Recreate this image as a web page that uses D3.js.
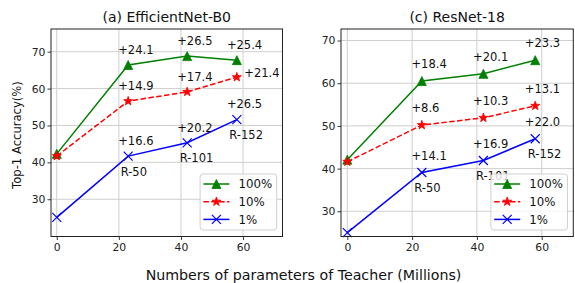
<!DOCTYPE html>
<html>
<head>
<meta charset="utf-8">
<script src="https://cdn.jsdelivr.net/npm/d3@7"></script>
<style>
  body { margin: 0; background: #fff; }
  svg { display: block; font-family: "DejaVu Sans", sans-serif; }
</style>
</head>
<body>
<svg id="chart" width="575" height="283"></svg>
<script>
// parameters of the teacher (millions), x = 0 is the student without a teacher
const teacherParams = [0, 23, 42, 58];
const teacherNames = ["", "R-50", "R-101", "R-152"];
const seriesNames = ["100%", "10%", "1%"];

// (a) EfficientNet-B0
const effNet100 = [42.3, 66.4, 68.8, 67.7];
const effNet10 = [41.7, 56.6, 59.1, 63.1];
const effNet1 = [25.1, 41.7, 45.3, 51.6];
const effGain100 = ["", "+24.1", "+26.5", "+25.4"];
const effGain10 = ["", "+14.9", "+17.4", "+21.4"];
const effGain1 = ["", "+16.6", "+20.2", "+26.5"];

// (c) ResNet-18
const resNet100 = [42.1, 60.5, 62.2, 65.4];
const resNet10 = [41.6, 50.2, 51.9, 54.7];
const resNet1 = [25.0, 39.1, 41.9, 47.0];
const resGain100 = ["", "+18.4", "+20.1", "+23.3"];
const resGain10 = ["", "+8.6", "+10.3", "+13.1"];
const resGain1 = ["", "+14.1", "+16.9", "+22.0"];

const xTicks = [0, 20, 40, 60];
const yTicks = [30, 40, 50, 60, 70];

const styles = [
  { color: "#008000", dash: null, marker: "triangle" },
  { color: "#ff0000", dash: "5.5,2.4", marker: "star" },
  { color: "#0000ff", dash: null, marker: "x" },
];

const panels = [
  {
    title: "(a) EfficientNet-B0",
    box: { left: 51, right: 282.5, top: 29, bottom: 236.5 },
    xDomain: [-1.85, 72.7],
    yDomain: [19.9, 76.15],
    series: [effNet100, effNet10, effNet1],
    gains: [effGain100, effGain10, effGain1],
    // the last 10% gain sits to the right of its marker
    gainRight: [[1, 3]],
  },
  {
    title: "(c) ResNet-18",
    box: { left: 341, right: 573.3, top: 29, bottom: 236.5 },
    xDomain: [-1.95, 69.75],
    yDomain: [24.1, 72.7],
    series: [resNet100, resNet10, resNet1],
    gains: [resGain100, resGain10, resGain1],
    gainRight: [],
  },
];

const svg = d3.select("#chart");

function markerPath(type, r) {
  if (type === "triangle") {
    return `M0,${-r}L${-r},${r}L${r},${r}Z`;
  }
  if (type === "star") {
    const pts = [];
    for (let k = 0; k < 10; k++) {
      const rad = k % 2 === 0 ? r * 1.05 : r * 0.42;
      const a = -Math.PI / 2 + (k * Math.PI) / 5;
      pts.push([rad * Math.cos(a), rad * Math.sin(a)]);
    }
    return "M" + pts.map((p) => p.join(",")).join("L") + "Z";
  }
  return `M${-r},${-r}L${r},${r}M${-r},${r}L${r},${-r}`;
}

function drawMarker(g, type, color, x, y) {
  const p = g
    .append("path")
    .attr("transform", `translate(${x},${y})`)
    .attr("d", markerPath(type, 4.5));
  if (type === "x") {
    p.attr("fill", "none").attr("stroke", color).attr("stroke-width", 1.2);
  } else {
    p.attr("fill", color).attr("stroke", color).attr("stroke-width", 0.8);
  }
}

panels.forEach((panel) => {
  const b = panel.box;
  const x = d3.scaleLinear().domain(panel.xDomain).range([b.left, b.right]);
  const y = d3.scaleLinear().domain(panel.yDomain).range([b.bottom, b.top]);
  const g = svg.append("g");

  // grid
  g.selectAll("line.vgrid")
    .data(xTicks)
    .join("line")
    .attr("x1", (d) => x(d))
    .attr("x2", (d) => x(d))
    .attr("y1", b.top)
    .attr("y2", b.bottom)
    .attr("stroke", "#cfcfcf")
    .attr("stroke-width", 1);
  g.selectAll("line.hgrid")
    .data(yTicks)
    .join("line")
    .attr("x1", b.left)
    .attr("x2", b.right)
    .attr("y1", (d) => y(d))
    .attr("y2", (d) => y(d))
    .attr("stroke", "#cfcfcf")
    .attr("stroke-width", 1);

  // axes
  const xAxis = d3.axisBottom(x).tickValues(xTicks).tickSize(3.5).tickPadding(3);
  const yAxis = d3.axisLeft(y).tickValues(yTicks).tickSize(3.5).tickPadding(2);
  const gx = g.append("g").attr("transform", `translate(0,${b.bottom})`).call(xAxis);
  const gy = g.append("g").attr("transform", `translate(${b.left},0)`).call(yAxis);
  [gx, gy].forEach((ax) => {
    ax.select(".domain").remove();
    ax.selectAll(".tick line").attr("stroke", "#222").attr("stroke-width", 0.9);
    ax.selectAll(".tick text")
      .attr("fill", "#222")
      .style("font-size", "10.8px")
      .style("font-family", "DejaVu Sans");
  });

  // lines and markers
  panel.series.forEach((vals, si) => {
    const st = styles[si];
    const pts = vals.map((v, i) => [x(teacherParams[i]), y(v)]);
    g.append("path")
      .attr("d", d3.line()(pts))
      .attr("fill", "none")
      .attr("stroke", st.color)
      .attr("stroke-width", 1.5)
      .attr("stroke-dasharray", st.dash);
    pts.forEach((p) => drawMarker(g, st.marker, st.color, p[0], p[1]));
  });

  // gain annotations
  panel.series.forEach((vals, si) => {
    vals.forEach((v, i) => {
      const txt = panel.gains[si][i];
      if (!txt) return;
      const right = panel.gainRight.some((r) => r[0] === si && r[1] === i);
      g.append("text")
        .attr("x", right ? x(teacherParams[i] + 2.4) : x(teacherParams[i] - 3.2))
        .attr("y", right ? y(v + 0.1) : y(v + 3))
        .attr("fill", "#111")
        .style("font-size", "11.5px")
        .text(txt);
    });
  });

  // teacher names under the 1% points
  const low = panel.series[2];
  teacherNames.forEach((name, i) => {
    if (!name) return;
    g.append("text")
      .attr("x", x(teacherParams[i]) - 7.5)
      .attr("y", y(low[i]) + 19.5)
      .attr("fill", "#111")
      .style("font-size", "11.5px")
      .text(name);
  });

  // frame
  g.append("rect")
    .attr("x", b.left)
    .attr("y", b.top)
    .attr("width", b.right - b.left)
    .attr("height", b.bottom - b.top)
    .attr("fill", "none")
    .attr("stroke", "#222")
    .attr("stroke-width", 1);

  // title
  g.append("text")
    .attr("x", (b.left + b.right) / 2)
    .attr("y", 22)
    .attr("text-anchor", "middle")
    .attr("fill", "#111")
    .style("font-size", "14px")
    .text(panel.title);

  // legend
  const lw = 76.6;
  const lh = 56;
  const lx = b.right - 5.8 - lw;
  const ly = b.bottom - 6.5 - lh;
  const leg = g.append("g");
  leg.append("rect")
    .attr("x", lx)
    .attr("y", ly)
    .attr("width", lw)
    .attr("height", lh)
    .attr("rx", 3)
    .attr("fill", "#fff")
    .attr("fill-opacity", 0.8)
    .attr("stroke", "#d0d0d0")
    .attr("stroke-width", 1);
  seriesNames.forEach((name, si) => {
    const st = styles[si];
    const cy = ly + 10 + si * 17.7;
    leg.append("line")
      .attr("x1", lx + 3.3)
      .attr("x2", lx + 29.3)
      .attr("y1", cy)
      .attr("y2", cy)
      .attr("stroke", st.color)
      .attr("stroke-width", 1.5)
      .attr("stroke-dasharray", st.dash);
    drawMarker(leg, st.marker, st.color, lx + 16.3, cy);
    leg.append("text")
      .attr("x", lx + 38.3)
      .attr("y", cy + 4.3)
      .attr("fill", "#111")
      .style("font-size", "11.8px")
      .text(name);
  });
});

// shared labels
svg.append("text")
  .attr("x", 303.5)
  .attr("y", 280)
  .attr("text-anchor", "middle")
  .attr("fill", "#111")
  .style("font-size", "14.2px")
  .text("Numbers of parameters of Teacher (Millions)");

svg.append("text")
  .attr("transform", "translate(20.5,135) rotate(-90)")
  .attr("text-anchor", "middle")
  .attr("fill", "#111")
  .style("font-size", "11.6px")
  .text("Top-1 Accuracy(%)");
</script>
</body>
</html>
